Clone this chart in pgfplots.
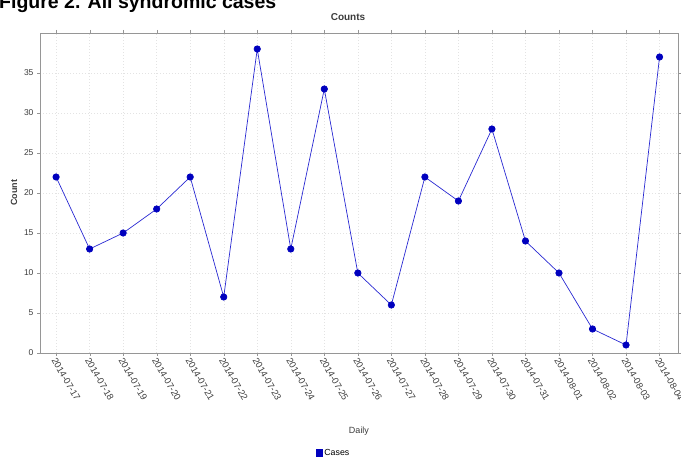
\documentclass[border=0pt]{standalone}
\usepackage{fontspec}
\setmainfont{Liberation Sans}
\usepackage{pgfplots}
\pgfplotsset{compat=1.18}
\definecolor{lineblue}{RGB}{40,40,210}
\definecolor{markblue}{RGB}{0,0,190}
\definecolor{framegray}{RGB}{150,150,150}
\definecolor{textgray}{RGB}{60,60,60}
\begin{document}
\begin{tikzpicture}[x=1pt,y=1pt]
\clip (0,0) rectangle (681,457);
\useasboundingbox (0,0) rectangle (681,457);
\node[anchor=base west, font=\bfseries\fontsize{19.5}{20}\selectfont, inner sep=0pt] at (-1,448.5) {Figure 2. All syndromic cases};
\node[font=\bfseries\fontsize{10}{12}\selectfont, textgray] at (348,440) {Counts};
\begin{axis}[
  at={(40pt,104pt)}, anchor=south west,
  scale only axis, width=638pt, height=320pt,
  xmin=-0.48, xmax=18.55, ymin=0, ymax=40,
  xtick={0,...,18},
  xticklabels={2014-07-17,2014-07-18,2014-07-19,2014-07-20,2014-07-21,2014-07-22,2014-07-23,2014-07-24,2014-07-25,2014-07-26,2014-07-27,2014-07-28,2014-07-29,2014-07-30,2014-07-31,2014-08-01,2014-08-02,2014-08-03,2014-08-04},
  ytick={0,5,...,35},
  xticklabel style={rotate=-60, anchor=west, font=\fontsize{9.3}{10}\selectfont, textgray, inner sep=1pt, yshift=-3pt},
  yticklabel style={font=\fontsize{8.5}{10}\selectfont, textgray},
  /pgf/number format/assume math mode=true,
  axis line style={framegray},
  tick style={framegray},
  tick align=outside,
  major tick length=3pt,
  grid=major,
  grid style={dash pattern=on 1pt off 2pt, gray!22},
  xlabel={Daily},
  xlabel style={font=\fontsize{9}{11}\selectfont, textgray, at={(0.5,0)}, yshift=-70pt, anchor=north},
  ylabel={Count},
  ylabel style={font=\bfseries\fontsize{9}{11}\selectfont, textgray},
  legend style={at={(0.46,-0.293)}, anchor=north, draw=none, font=\fontsize{8.8}{10}\selectfont, inner sep=0pt},
  legend image code/.code={\fill[markblue] (1pt,-3.5pt) rectangle (7pt,3.5pt);},
]
\addplot[lineblue, line width=0.7pt, mark=*, mark size=3.2pt, mark options={fill=markblue, draw=markblue}]
coordinates {
(0,22) (1,13) (2,15) (3,18) (4,22) (5,7) (6,38) (7,13) (8,33) (9,10)
(10,6) (11,22) (12,19) (13,28) (14,14) (15,10) (16,3) (17,1) (18,37)
};
\addlegendentry{Cases}
\end{axis}
\end{tikzpicture}
\end{document}
